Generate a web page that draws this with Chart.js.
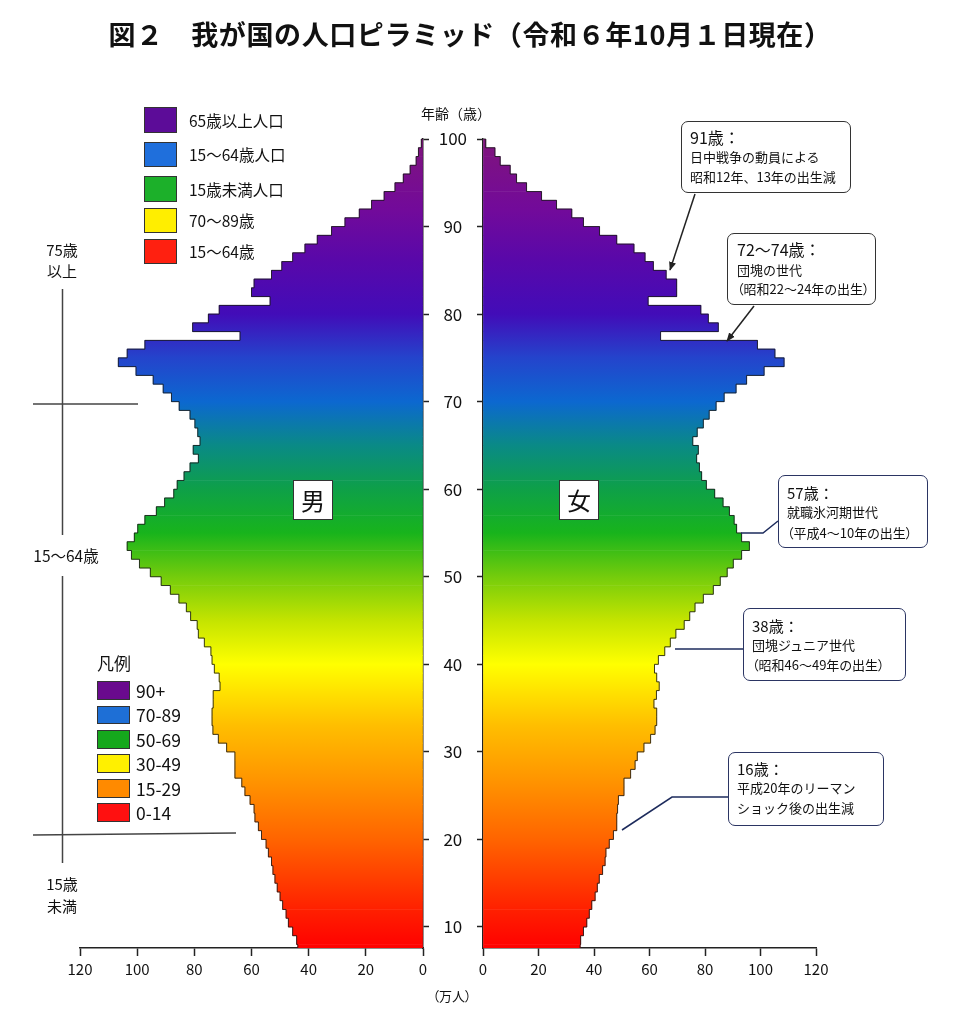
<!DOCTYPE html>
<html><head><meta charset="utf-8">
<script src="https://cdn.jsdelivr.net/npm/chart.js@4.4.1/dist/chart.umd.min.js"></script>
<style>
html,body{margin:0;padding:0;background:#fff;}
#wrap{position:relative;width:967px;height:1024px;overflow:hidden;font-family:"Noto Sans CJK JP","Noto Sans",sans-serif;color:#111;}
canvas{position:absolute;left:0;top:0;}
svg{position:absolute;left:0;top:0;}
.t{position:absolute;white-space:nowrap;}
.sq{position:absolute;border:1px solid #333;box-sizing:border-box;}
.box{position:absolute;background:#fff;box-sizing:border-box;}
</style></head>
<body>
<div id="wrap">
<canvas id="male" width="967" height="1024"></canvas>
<canvas id="female" width="967" height="1024"></canvas>
<svg width="967" height="1024" viewBox="0 0 967 1024">
 <defs>
  <marker id="ar" viewBox="0 0 10 10" refX="9" refY="5" markerWidth="6" markerHeight="6" orient="auto">
   <path d="M0,1 L10,5 L0,9 z" fill="#222"/>
  </marker>
 </defs>
 <g stroke="#444" stroke-width="1.5" fill="none">
  <line x1="62.5" y1="289" x2="62.5" y2="535"/>
  <line x1="33" y1="404" x2="138" y2="404"/>
  <line x1="62.5" y1="576" x2="62.5" y2="863"/>
  <line x1="33" y1="835" x2="236" y2="833"/>
 </g>
 <g stroke="#222" stroke-width="1.5" fill="none">
  <line x1="695" y1="194" x2="670" y2="270" marker-end="url(#ar)"/>
  <line x1="754" y1="306" x2="727" y2="341" marker-end="url(#ar)"/>
 </g>
 <g stroke="#1d2b5c" stroke-width="1.5" fill="none">
  <polyline points="778,521 763,533 741,533"/>
  <polyline points="743,649 675,649"/>
  <polyline points="728,797 672,797 622,830"/>
 </g>
</svg>
</div>
<script>
// ---------------- data ----------------
const ages = [7,8,9,10,11,12,13,14,15,16,17,18,19,20,21,22,23,24,25,26,27,28,29,30,31,32,33,34,35,36,
  37,38,39,40,41,42,43,44,45,46,47,48,49,50,51,52,53,54,55,56,57,58,59,60,61,62,63,64,65,66,
  67,68,69,70,71,72,73,74,75,76,77,78,79,80,81,82,83,84,85,86,87,88,89,90,91,92,93,94,95,96,97,98,99];
const maleValues = [43.8,44.2,45.6,47.1,47.9,49.1,50.0,51.0,51.8,52.5,
  53.0,54.1,54.9,56.5,57.6,58.8,59.1,60.5,62.3,63.4,
  65.8,65.8,65.8,68.7,71.6,73.5,73.8,73.8,73.4,73.4,
  71.0,71.3,73.0,73.8,74.2,76.5,78.6,79.0,81.3,82.8,
  85.4,88.4,91.6,95.4,99.2,102.0,103.5,101.0,99.8,97.3,
  93.3,90.4,87.2,86.0,83.6,81.5,78.6,80.4,78.0,78.8,
  79.8,81.5,85.3,88.0,90.9,94.4,100.4,106.6,103.5,97.3,
  64.0,80.6,75.1,71.3,53.5,60.0,59.1,53.0,49.4,45.6,
  41.3,37.0,32.0,27.3,22.3,18.0,13.6,9.8,6.9,4.5,
  2.4,1.6,0.6];
const femaleValues = [35.0,35.2,36.2,37.4,38.3,39.2,40.4,41.2,41.9,43.1,
  44.0,44.3,45.5,47.0,48.2,48.2,48.5,48.8,50.8,50.8,
  53.2,54.8,55.6,58.0,60.4,62.0,62.6,62.6,61.6,62.5,
  63.5,62.6,61.8,63.2,65.5,67.5,69.5,72.5,74.5,76.4,
  79.4,83.0,85.5,88.0,90.2,93.2,96.0,93.2,91.4,90.5,
  88.8,86.5,83.5,80.5,78.8,78.0,77.0,77.6,75.6,77.2,
  79.4,81.5,84.0,86.9,91.2,95.0,101.3,108.5,105.2,98.9,
  64.0,84.8,81.2,78.5,59.5,69.8,69.8,66.0,61.4,58.4,
  54.4,48.2,42.0,36.2,32.0,26.5,21.1,15.7,12.1,9.8,
  6.2,4.3,1.0];
const populationTicks = [0,20,40,60,80,100,120];
const ageTicks = [10,20,30,40,50,60,70,80,90,100];
const ageMin = 7.6, ageMax = 100;

// ---------------- style ----------------
const FAMILY = '"Noto Sans CJK JP","Noto Sans",sans-serif';
const gradientStops = [[7.6,'#ff0000'],[12,'#ff2000'],[20,'#ff6400'],[27,'#ff9600'],[33,'#ffbe00'],[40,'#ffff00'],
  [45,'#c4e400'],[50,'#74cc0c'],[55,'#18b41c'],[60,'#0ea048'],[65,'#0a8a86'],[70,'#0c68d0'],[75,'#2444cc'],
  [80,'#420cb8'],[86,'#5808aa'],[92,'#720a9a'],[100,'#80147c']];

function gradientFor(chart){
  if (!chart.chartArea) return '#f00';
  if (chart.$grad) return chart.$grad;
  const y = chart.scales.y;
  const p0 = y.getPixelForValue(ageMin), p1 = y.getPixelForValue(ageMax);
  const g = chart.ctx.createLinearGradient(0, p0, 0, p1);
  gradientStops.forEach(([a,c]) => g.addColorStop((a-ageMin)/(ageMax-ageMin), c));
  chart.$grad = g;
  return g;
}

const outlinePlugin = {
  id: 'outline',
  afterDatasetsDraw(chart){
    const els = chart.getDatasetMeta(0).data;
    const c = chart.ctx, a = chart.chartArea;
    c.save();
    c.beginPath();
    c.rect(a.left-2, a.top-2, a.right-a.left+4, a.bottom-a.top+2);
    c.clip();
    c.beginPath();
    els.forEach((el, i) => {
      const top = el.y - el.height/2, bot = el.y + el.height/2;
      if (i === 0) c.moveTo(el.x, bot); else c.lineTo(el.x, bot);
      c.lineTo(el.x, top);
    });
    const last = els[els.length-1];
    c.lineTo(last.base, last.y - last.height/2);
    c.strokeStyle = 'rgba(25,25,25,0.85)';
    c.lineWidth = 1;
    c.stroke();
    c.restore();
  }
};

function makeChart(id, values, isMale){
  const pts = ages.map((a,i) => ({x: values[i], y: a + 0.5}));
  return new Chart(document.getElementById(id), {
    type: 'bar',
    data: { datasets: [{ data: pts, backgroundColor: ctx => gradientFor(ctx.chart),
      borderWidth: 0, barPercentage: 1, categoryPercentage: 1 }] },
    options: {
      indexAxis: 'y', responsive: false, animation: false, events: [],
      layout: { padding: isMale ? {left:80, right:538, top:139, bottom:36} : {left:423, right:151, top:139, bottom:36} },
      plugins: { legend:{display:false}, tooltip:{enabled:false} },
      scales: {
        x: { type:'linear', reverse:isMale, min:0, max:120,
          afterBuildTicks: s => { s.ticks = populationTicks.map(v => ({value:v})); },
          ticks: { color:'#111', font:{size:15, family:FAMILY}, padding:4, maxRotation:0 },
          grid: { display:true, drawOnChartArea:false, tickLength:8, tickColor:'#222', tickWidth:1.5, offset:false },
          border: { display:true, color:'#222', width:1.5 },
          afterFit: s => { s.height = 40; } },
        y: { type:'linear', position: isMale ? 'right' : 'left', min:ageMin, max:ageMax, offset:false,
          afterBuildTicks: s => { s.ticks = ageTicks.map(v => ({value:v})); },
          ticks: isMale ? { display:false } :
            { display:true, color:'#111', font:{size:17, family:FAMILY}, crossAlign:'center', padding:10 },
          grid: { display:true, drawOnChartArea:false, tickLength:6, tickColor:'#222', tickWidth:1.5, offset:false },
          border: { display:true, color:'#222', width:1.5 },
          afterFit: s => { s.width = isMale ? 6 : 60; } }
      }
    },
    plugins: [outlinePlugin]
  });
}
makeChart('male', maleValues, true);
makeChart('female', femaleValues, false);

// ---------------- texts / decorations ----------------
const wrap = document.getElementById('wrap');
function T(txt, x, cy, size, opt = {}){
  const d = document.createElement('div');
  d.className = 't';
  d.textContent = txt;
  const h = Math.round(size * 1.5);
  d.style.fontSize = size + 'px';
  d.style.height = h + 'px';
  d.style.lineHeight = h + 'px';
  d.style.top = (cy - h/2) + 'px';
  if (opt.bold) d.style.fontWeight = '700';
  if (opt.ls) d.style.letterSpacing = opt.ls + 'px';
  if (txt.charAt(0) === '（') d.style.fontFeatureSettings = '"palt"';
  if (opt.center){ d.style.left = (x - 400) + 'px'; d.style.width = '800px'; d.style.textAlign = 'center'; }
  else d.style.left = x + 'px';
  if (opt.color) d.style.color = opt.color;
  wrap.appendChild(d);
}
function R(cls, x, y, w, h, css){
  const d = document.createElement('div');
  d.className = cls;
  d.style.left = x + 'px'; d.style.top = y + 'px'; d.style.width = w + 'px'; d.style.height = h + 'px';
  if (css) d.style.cssText += css;
  wrap.appendChild(d);
  return d;
}

T('図２　我が国の人口ピラミッド（令和６年10月１日現在）', 470, 33, 27, {bold:true, center:true, ls:0.6});
T('年齢（歳）', 421, 113, 14);
T('（万人）', 452, 996, 13, {center:true});

// upper legend
const upperLegend = [['65歳以上人口','#5c0c98',107,133],['15～64歳人口','#1f6fdc',142,167],
  ['15歳未満人口','#1cb02a',176,202],['70～89歳','#ffee00',208,233],['15～64歳','#ff2010',239,264]];
upperLegend.forEach(([t,c,y0,y1]) => {
  R('sq', 144, y0, 33, y1-y0, 'background:'+c+';');
  T(t, 189, (y0+y1)/2, 15.5);
});
// lower legend
T('凡例', 97, 663, 17);
const lowerLegend = [['90+','#6a0a8e',681,700],['70-89','#1e6fd6',706,724],['50-69','#15a81c',730,749],
  ['30-49','#fff000',754,773],['15-29','#ff8a00',779,798],['0-14','#ff1010',803,822]];
lowerLegend.forEach(([t,c,y0,y1]) => {
  R('sq', 97, y0, 33, y1-y0, 'background:'+c+';');
  T(t, 136, (y0+y1)/2, 17.5);
});

// bracket labels
T('75歳', 62, 249, 15, {center:true});
T('以上', 62, 270, 15, {center:true});
T('15～64歳', 66, 555, 15.5, {center:true});
T('15歳', 62, 883, 15, {center:true});
T('未満', 62, 905, 15, {center:true});

// sex labels
R('box', 293, 480, 40, 40, 'border:1.5px solid #333;');
T('男', 313, 500, 24, {center:true});
R('box', 559, 480, 40, 40, 'border:1.5px solid #333;');
T('女', 579, 500, 24, {center:true});

// annotation boxes
const notes = [
  {x:681, y:121, w:170, h:72, tx:690, lines:[['91歳：',16,137],['日中戦争の動員による',13,157],['昭和12年、13年の出生減',13,177]], bc:'#333'},
  {x:727, y:233, w:149, h:72, tx:737, lines:[['72～74歳：',16,249],['団塊の世代',13,270],['（昭和22～24年の出生）',13,289]], bc:'#333'},
  {x:778, y:475, w:150, h:73, tx:787, lines:[['57歳：',15,492],['就職氷河期世代',13,512],['（平成4～10年の出生）',13,533]], bc:'#2b3563'},
  {x:743, y:608, w:163, h:73, tx:752, lines:[['38歳：',15,625],['団塊ジュニア世代',13,645],['（昭和46～49年の出生）',13,665]], bc:'#2b3563'},
  {x:728, y:752, w:156, h:74, tx:737, lines:[['16歳：',15,768],['平成20年のリーマン',13,788],['ショック後の出生減',13,808]], bc:'#2b3563'}
];
notes.forEach(n => {
  R('box', n.x, n.y, n.w, n.h, 'border:1.5px solid '+n.bc+';border-radius:7px;');
  n.lines.forEach(([t,s,cy]) => T(t, n.tx, cy, s));
});
</script>
</body></html>
